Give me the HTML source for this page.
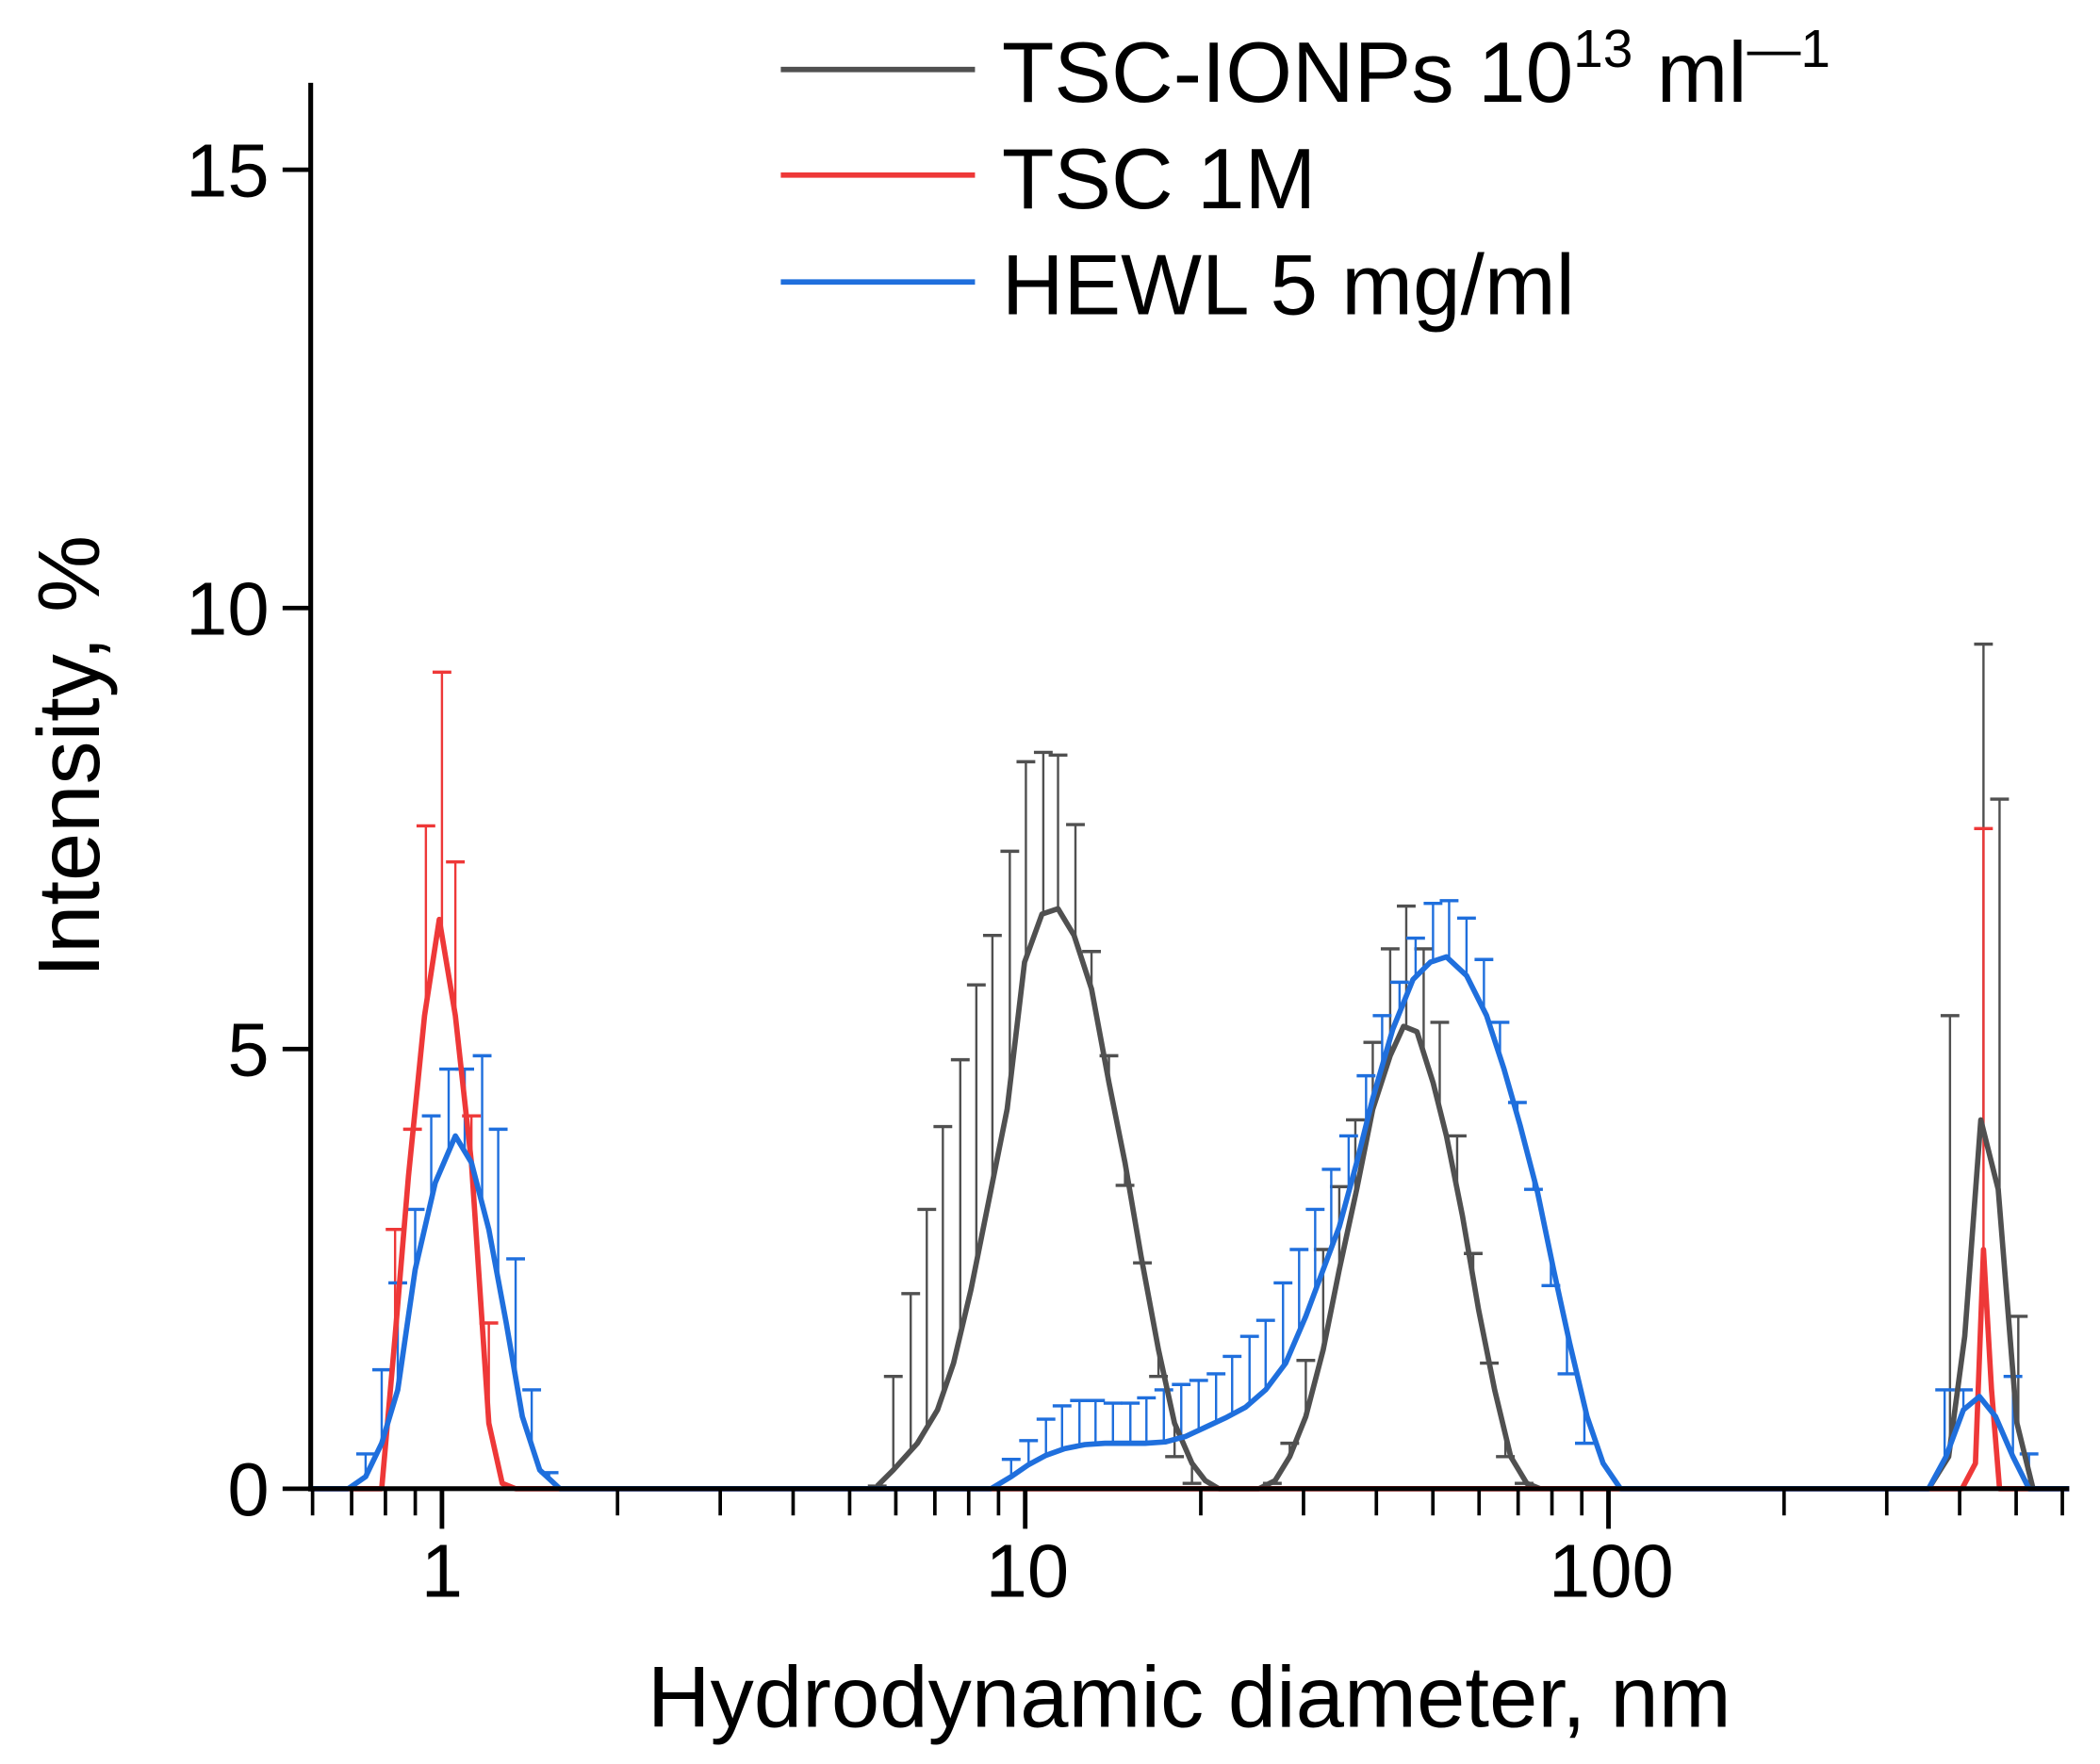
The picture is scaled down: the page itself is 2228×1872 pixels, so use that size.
<!DOCTYPE html>
<html><head><meta charset="utf-8"><style>
html,body{margin:0;padding:0;background:#fff}
svg{display:block}
text{font-family:"Liberation Sans",Arial,sans-serif;fill:#000}
</style></head><body>
<svg id="s" width="2228" height="1872" viewBox="0 0 1568 1320" preserveAspectRatio="none" xmlns="http://www.w3.org/2000/svg">
<g id="bars"></g>
<g id="curves" fill="none" stroke-linejoin="round"></g>
<g stroke="#000" fill="none">
<line x1="232" y1="62" x2="232" y2="1116" stroke-width="3.6"/>
<line x1="230" y1="1114" x2="1545" y2="1114" stroke-width="3.6"/>
<line x1="211" y1="127" x2="232" y2="127" stroke-width="3.4"/>
<line x1="211" y1="455" x2="232" y2="455" stroke-width="3.4"/>
<line x1="211" y1="785" x2="232" y2="785" stroke-width="3.4"/>
<line x1="211" y1="1114" x2="232" y2="1114" stroke-width="3.4"/>
<g id="xt" stroke-width="2.6"></g>
</g>
<g font-size="56" text-anchor="end">
<text x="201" y="147">15</text>
<text x="201" y="475">10</text>
<text x="201" y="805">5</text>
<text x="201" y="1134">0</text>
</g>
<g font-size="56" text-anchor="middle">
<text x="330" y="1195">1</text>
<text x="767" y="1195">10</text>
<text x="1203" y="1195">100</text>
</g>
<text x="888" y="1292" font-size="65" text-anchor="middle">Hydrodynamic diameter, nm</text>
<text transform="translate(74,566) rotate(-90)" font-size="65" text-anchor="middle">Intensity, %</text>
<line x1="583" y1="52" x2="728" y2="52" stroke="#505050" stroke-width="4"/>
<line x1="583" y1="131" x2="728" y2="131" stroke="#ee3838" stroke-width="4"/>
<line x1="583" y1="211" x2="728" y2="211" stroke="#1f6fdd" stroke-width="4"/>
<text x="748" y="76" font-size="64">TSC-IONPs 10<tspan font-size="40" dy="-26">13</tspan><tspan dy="26"> ml</tspan><tspan font-size="40" dy="-26">—1</tspan></text>
<text x="748" y="156" font-size="64">TSC 1M</text>
<text x="748" y="235" font-size="64">HEWL 5 mg/ml</text>
</svg>
<script>
var NS="http://www.w3.org/2000/svg";
function el(p,t,a){var e=document.createElementNS(NS,t);for(var k in a)e.setAttribute(k,a[k]);p.appendChild(e);return e;}
var xt=document.getElementById('xt');
function X(d){return 330+435.5*Math.log10(d);}
[0.6,0.7,0.8,0.9,2,3,4,5,6,7,8,9,20,30,40,50,60,70,80,90,200,300,400,500,600].forEach(function(d){var x=X(d);el(xt,'line',{x1:x,y1:1114,x2:x,y2:1134});});
[1,10,100].forEach(function(d){var x=X(d);el(xt,'line',{x1:x,y1:1114,x2:x,y2:1144,'stroke-width':3.4});});
var series=[
{c:"#1f6fdd",pts:[[232,1114],[260,1114],[273,1105],[285,1080],[297,1040],[310,950],[325,885],[340,850],[352,870],[365,920],[378,990],[390,1060],[403,1100],[418,1114],[740,1114],[755,1105],[768,1096],[781,1089],[795,1084],[810,1081],[825,1080],[840,1080],[855,1080],[870,1079],[885,1075],[900,1068],[915,1061],[930,1053],[945,1040],[960,1020],[975,985],[988,950],[1000,918],[1013,870],[1025,822],[1040,770],[1055,733],[1068,720],[1080,716],[1095,730],[1110,760],[1123,800],[1135,842],[1148,892],[1160,950],[1172,1005],[1185,1060],[1197,1095],[1210,1114],[1440,1114],[1453,1090],[1466,1055],[1478,1045],[1490,1060],[1503,1090],[1515,1114],[1545,1114]],
caps:[[273,1088],[285,1025],[297,960],[310,905],[322,835],[335,800],[347,800],[360,790],[372,845],[385,942],[397,1040],[410,1102],[755,1092],[768,1078],[781,1062],[793,1052],[806,1048],[818,1048],[831,1050],[844,1050],[856,1046],[869,1040],[882,1036],[895,1033],[908,1028],[920,1015],[933,1000],[945,988],[958,960],[970,935],[982,905],[994,875],[1007,850],[1020,805],[1032,760],[1045,735],[1057,702],[1070,676],[1082,674],[1095,687],[1108,718],[1120,765],[1133,825],[1145,890],[1158,962],[1170,1028],[1183,1080],[1452,1040],[1466,1040],[1503,1030],[1515,1088]]},
{c:"#ee3838",pts:[[232,1114],[285,1114],[295,1000],[305,880],[317,760],[328,688],[340,760],[352,870],[365,1065],[375,1110],[385,1114],[1465,1114],[1475,1095],[1481,935],[1487,1040],[1493,1114],[1545,1114]],
caps:[[295,920],[308,845],[318,618],[330,503],[340,645],[352,835],[365,990],[1481,620]]},
{c:"#505050",pts:[[655,1112],[667,1100],[685,1080],[700,1055],[712,1020],[725,965],[740,890],[752,830],[765,720],[778,684],[790,680],[802,700],[815,740],[828,810],[840,870],[852,940],[865,1010],[877,1065],[890,1095],[900,1108],[910,1114],[940,1114],[952,1108],[963,1090],[975,1060],[988,1010],[1000,950],[1013,890],[1025,830],[1038,790],[1048,768],[1058,772],[1070,810],[1080,850],[1092,910],[1104,980],[1116,1040],[1128,1090],[1140,1110],[1150,1114]],
caps:[[655,1112],[667,1030],[680,968],[692,905],[704,843],[717,793],[729,737],[741,700],[754,637],[766,570],[779,563],[790,565],[803,617],[815,712],[828,790],[840,887],[853,945],[865,1030],[877,1090],[890,1110],[950,1110],[963,1080],[975,1018],[988,935],[1000,888],[1012,838],[1025,780],[1038,710],[1050,678],[1063,710],[1075,765],[1088,850],[1100,938],[1112,1020],[1124,1090],[1138,1110]]}
];
var series2={c:"#505050",pts:[[1440,1114],[1455,1090],[1467,1000],[1479,838],[1492,890],[1506,1065],[1518,1114]],caps:[[1456,760],[1481,482],[1493,598],[1507,985]]};
var bars=document.getElementById('bars'),cur=document.getElementById('curves');
function interp(pts,x){for(var i=0;i<pts.length-1;i++){var a=pts[i],b=pts[i+1];if(x>=a[0]&&x<=b[0]){return a[1]+(b[1]-a[1])*(x-a[0])/((b[0]-a[0])||1);}}return 1114;}
function draw(s){
 s.caps.forEach(function(c){var y=interp(s.pts,c[0]);
  el(bars,'line',{x1:c[0],y1:y,x2:c[0],y2:c[1],stroke:s.c,'stroke-width':1.7});
  el(bars,'line',{x1:c[0]-7,y1:c[1],x2:c[0]+7,y2:c[1],stroke:s.c,'stroke-width':2.4});});
 el(cur,'polyline',{points:s.pts.map(function(p){return p.join(',')}).join(' '),stroke:s.c,'stroke-width':4});
}
draw(series[2]);draw(series2);draw(series[1]);draw(series[0]);
</script>
</body></html>
